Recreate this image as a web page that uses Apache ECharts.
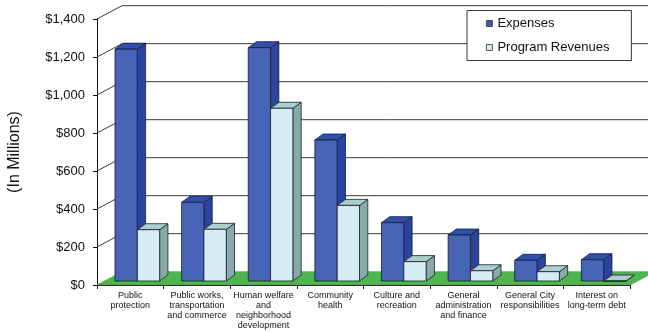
<!DOCTYPE html>
<html><head><meta charset="utf-8">
<script src="https://cdn.jsdelivr.net/npm/echarts@6/dist/echarts.min.js"></script>
<style>html,body{margin:0;padding:0;background:#fff}#c{width:648px;height:332px}</style>
</head><body><div id="c"></div>
<script>
var categories = ['Public\nprotection', 'Public works,\ntransportation\nand commerce', 'Human welfare\nand\nneighborhood\ndevelopment', 'Community\nhealth', 'Culture and\nrecreation', 'General\nadministration\nand finance', 'General City\nresponsibilities', 'Interest on\nlong-term debt'];
var expenses = [1220, 414, 1228, 742, 307, 242, 109, 112];
var revenues = [270, 272, 909, 398, 102, 54, 49, 0];
var yTicks = [0, 200, 400, 600, 800, 1000, 1200, 1400];

var WALL_DX = 25, WALL_DY = -13.3;   // depth of wall
var BAR_SHIFT_DY = -4;               // bars' front plane offset
var BAR_DX = 8.3, BAR_DY = -6;       // bar depth

var chart = echarts.init(document.getElementById('c'), null, {renderer: 'canvas'});

function barRenderer(colors, slot) {
  return function (params, api) {
    var i = api.value(0), v = api.value(1);
    var p0 = api.coord([i, 0]), p1 = api.coord([i, v]);
    var band = api.size([1, 0])[0];
    var w = band * 0.335;
    var cx = p0[0];
    var x = cx - band * 0.23 + slot * w;
    var y0 = p0[1] + BAR_SHIFT_DY, y1 = p1[1] + BAR_SHIFT_DY;
    var stroke = {stroke: '#1c1c30', lineWidth: 0.8, lineJoin: 'round'};
    return {
      type: 'group',
      children: [
        {type: 'polygon', shape: {points: [[x + w, y1], [x + w + BAR_DX, y1 + BAR_DY], [x + w + BAR_DX, y0 + BAR_DY], [x + w, y0]]},
          style: Object.assign({fill: colors.side}, stroke)},
        {type: 'polygon', shape: {points: [[x, y1], [x + BAR_DX, y1 + BAR_DY], [x + w + BAR_DX, y1 + BAR_DY], [x + w, y1]]},
          style: Object.assign({fill: colors.top}, stroke)},
        {type: 'rect', shape: {x: x, y: y1, width: w, height: y0 - y1},
          style: Object.assign({fill: colors.front}, stroke)}
      ]
    };
  };
}

function wallRenderer(params, api) {
  var v = api.value(1);
  var p = api.coord([0, v]);
  var band = api.size([1, 0])[0];
  var xl = p[0] - band / 2;
  var xr = api.coord([categories.length - 1, 0])[0] + band / 2;
  var y = p[1];
  var W = api.getWidth();
  if (v === 0) {
    return {
      type: 'polygon',
      shape: {points: [[xl, y], [xr, y], [xr + WALL_DX, y + WALL_DY], [xl + WALL_DX, y + WALL_DY]]},
      style: {fill: '#4fb64f', stroke: '#3e9a3e', lineWidth: 0.6}
    };
  }
  return {
    type: 'polyline',
    shape: {points: [[xl, y], [xl + WALL_DX, y + WALL_DY], [W + 2, y + WALL_DY]]},
    style: {fill: null, stroke: '#3a3a3a', lineWidth: 1}
  };
}

var option = {
  animation: false,
  textStyle: {fontFamily: 'Liberation Sans, Arial, sans-serif'},
  grid: {left: 97, right: 18, top: 19, bottom: 47, containLabel: false, outerBoundsMode: 'none'},
  legend: {
    data: ['Expenses', 'Program Revenues'],
    orient: 'vertical',
    left: 467, top: 10.5,
    padding: [6, 22, 6, 19],
    itemWidth: 6, itemHeight: 6, itemGap: 10,
    icon: 'rect',
    itemStyle: {borderWidth: 0.8, borderColor: '#333'},
    backgroundColor: '#fff',
    borderColor: '#3a3a3a', borderWidth: 1,
    textStyle: {fontSize: 13, color: '#111', lineHeight: 14, fontFamily: 'Liberation Sans, Arial, sans-serif'}
  },
  xAxis: {
    type: 'category',
    data: categories,
    boundaryGap: true,
    axisLine: {show: true, lineStyle: {color: '#111', width: 1}},
    axisTick: {show: true, length: 4, lineStyle: {color: '#111'}},
    axisLabel: {interval: 0, fontSize: 9, lineHeight: 10, color: '#111', margin: 6, fontFamily: 'Liberation Sans, Arial, sans-serif'},
    splitLine: {show: false}
  },
  yAxis: {
    type: 'value',
    min: 0, max: 1400, interval: 200,
    name: '(In Millions)',
    nameLocation: 'middle',
    nameRotate: 90,
    nameGap: 74,
    nameTextStyle: {fontSize: 16, color: '#111', fontFamily: 'Liberation Sans, Arial, sans-serif'},
    axisLine: {show: true, lineStyle: {color: '#111', width: 1}},
    axisTick: {show: true, length: 4, lineStyle: {color: '#111'}},
    axisLabel: {fontSize: 13, color: '#111', margin: 12,
      formatter: function (v) { return '$' + v.toLocaleString('en-US'); }},
    splitLine: {show: false}
  },
  series: [
    {
      name: 'wall', type: 'custom', clip: false, silent: true, z: 1,
      renderItem: wallRenderer,
      data: yTicks.map(function (t) { return [0, t]; }),
      encode: {x: 0, y: 1}
    },
    {
      name: 'Expenses', type: 'custom', clip: false, z: 3,
      itemStyle: {color: '#3f5bb0', borderColor: '#1c1c30', borderWidth: 0.8},
      renderItem: barRenderer({front: '#4764b6', side: '#2b44a2', top: '#3050ac'}, 0),
      data: expenses.map(function (v, i) { return [i, v]; }),
      encode: {x: 0, y: 1}
    },
    {
      name: 'Program Revenues', type: 'custom', clip: false, z: 4,
      itemStyle: {color: '#d4ecf4', borderColor: '#1c1c30', borderWidth: 0.8},
      renderItem: barRenderer({front: '#d4ecf4', side: '#86aaa5', top: '#a9d0cc'}, 1),
      data: revenues.map(function (v, i) { return [i, v]; }),
      encode: {x: 0, y: 1}
    }
  ]
};
chart.setOption(option);
</script></body></html>
